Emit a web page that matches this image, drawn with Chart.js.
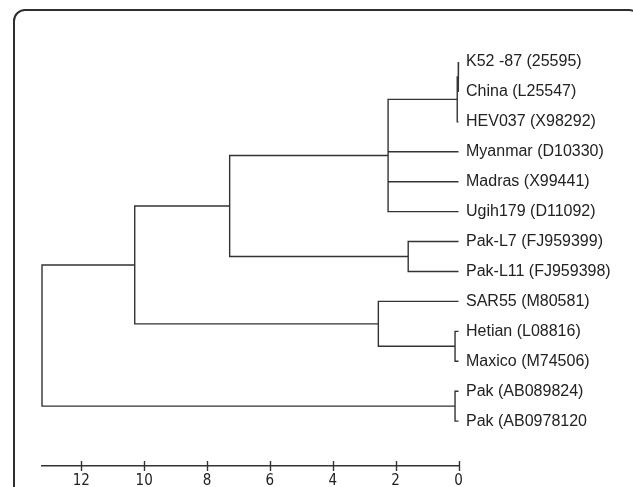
<!DOCTYPE html>
<html>
<head>
<meta charset="utf-8">
<script src="https://cdn.jsdelivr.net/npm/chart.js@4.4.1/dist/chart.umd.min.js"></script>
<style>
  html, body { margin: 0; padding: 0; background: #fff; overflow: hidden; }
  #wrap { position: relative; width: 633px; height: 487px; }
  #frame { position: absolute; left: 13px; top: 9px; width: 628px; height: 600px;
           box-sizing: border-box; border: 2px solid #2e2e2e; border-radius: 12px; }
  canvas { position: absolute; left: 0; top: 0; }
</style>
</head>
<body>
<div id="wrap">
  <div id="frame"></div>
  <canvas id="tree" width="633" height="487"></canvas>
</div>
<script>
// leaves, top to bottom
const leafNames = [
  'K52 -87 (25595)', 'China (L25547)', 'HEV037 (X98292)', 'Myanmar (D10330)',
  'Madras (X99441)', 'Ugih179 (D11092)', 'Pak-L7 (FJ959399)', 'Pak-L11 (FJ959398)',
  'SAR55 (M80581)', 'Hetian (L08816)', 'Maxico (M74506)', 'Pak (AB089824)',
  'Pak (AB0978120'
];
// internal nodes, numbered after the leaves (13, 14, ...)
const nodeChildren = [
  [0, 1],          // 13
  [13, 2],         // 14
  [14, 3, 4, 5],   // 15
  [6, 7],          // 16
  [15, 16],        // 17
  [9, 10],         // 18
  [8, 18],         // 19
  [17, 19],        // 20
  [11, 12],        // 21
  [20, 21]         // 22 root
];
const nodeHeights = [0.01, 0.04, 2.24, 1.6, 7.28, 0.11, 2.55, 10.3, 0.11, 13.25];
const distTicks = [0, 2, 4, 6, 8, 10, 12];

const lineColor = '#333';
const nLeaf = leafNames.length;

// node positions: leaves sit at distance 0, row = index
const nodeY = leafNames.map((_, i) => i);
const nodeX = leafNames.map(() => 0);
const datasets = [];

nodeChildren.forEach((kids, k) => {
  const h = nodeHeights[k];
  const first = kids[0], last = kids[kids.length - 1];
  const pts = [
    { x: nodeX[first], y: nodeY[first] },
    { x: h, y: nodeY[first] },
    { x: h, y: nodeY[last] },
    { x: nodeX[last], y: nodeY[last] }
  ];
  kids.slice(1, -1).forEach(c => {
    pts.push({ x: h, y: null }, { x: h, y: nodeY[c] }, { x: nodeX[c], y: nodeY[c] });
  });
  nodeY.push((nodeY[first] + nodeY[last]) / 2);
  nodeX.push(h);
  datasets.push({
    data: pts,
    showLine: true,
    borderColor: lineColor,
    borderWidth: 1.4,
    pointRadius: 0,
    spanGaps: false,
    clip: false
  });
});

// tick marks that cross the axis line
const crossTicks = {
  id: 'crossTicks',
  afterDraw(chart) {
    const sx = chart.scales.x;
    const ctx = chart.ctx;
    ctx.save();
    ctx.strokeStyle = lineColor;
    ctx.lineWidth = 1.4;
    sx.ticks.forEach(t => {
      const px = Math.round(sx.getPixelForValue(t.value)) + 0.5;
      ctx.beginPath();
      ctx.moveTo(px, sx.top - 5);
      ctx.lineTo(px, sx.top + 5);
      ctx.stroke();
    });
    ctx.restore();
  }
};

new Chart(document.getElementById('tree'), {
  type: 'scatter',
  data: { datasets: datasets },
  plugins: [crossTicks],
  options: {
    responsive: false,
    animation: false,
    layout: { padding: { left: 42, top: 9.4, right: 0, bottom: 0 } },
    plugins: { legend: { display: false }, tooltip: { enabled: false } },
    scales: {
      x: {
        type: 'linear',
        reverse: true,
        min: 0,
        max: 13.25,
        grid: { display: false, drawTicks: false },
        border: { display: true, color: lineColor, width: 1.4 },
        ticks: {
          padding: 6,
          color: '#222',
          font: { family: '"Liberation Sans Narrow", "DejaVu Sans Condensed", Arial, sans-serif', size: 15 }
        },
        afterBuildTicks: s => { s.ticks = distTicks.map(v => ({ value: v })); },
        afterFit: s => { s.height = 21; }
      },
      y: {
        type: 'linear',
        position: 'right',
        reverse: true,
        min: -1.5,
        max: 13.5,
        grid: { display: false, drawTicks: false },
        border: { display: false },
        ticks: {
          padding: 7.5,
          autoSkip: false,
          color: '#222',
          font: { family: '"Liberation Sans", Arial, sans-serif', size: 16 },
          callback: v => leafNames[v] || ''
        },
        afterBuildTicks: s => { s.ticks = leafNames.map((_, i) => ({ value: i })); },
        afterFit: s => { s.width = 174.5; }
      }
    }
  }
});
</script>
</body>
</html>
